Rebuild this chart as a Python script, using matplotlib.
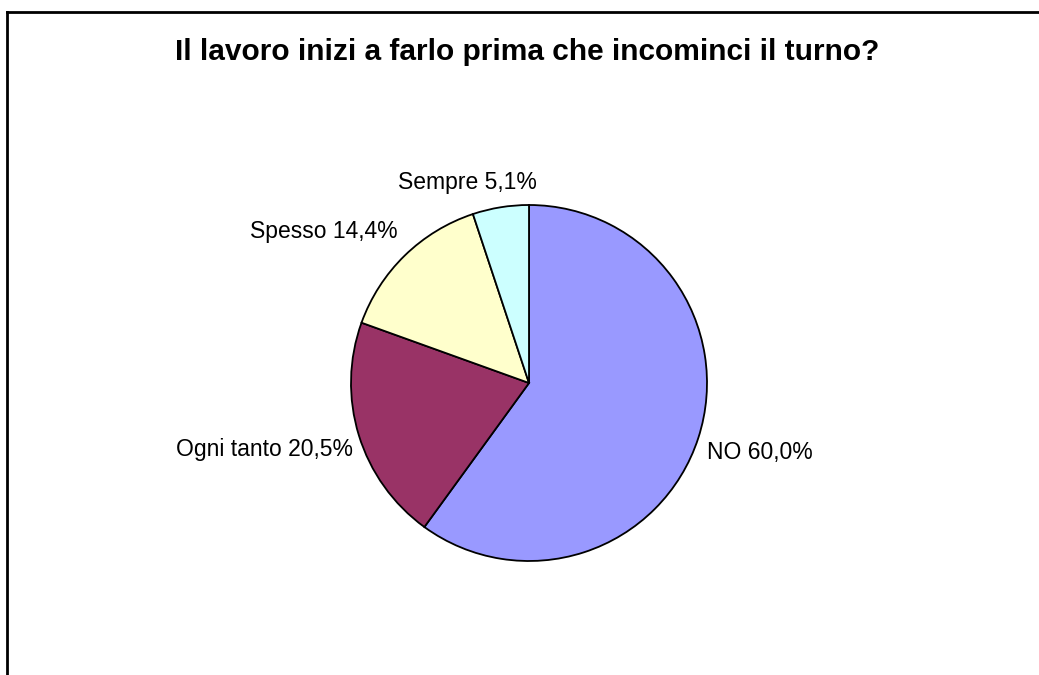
import numpy as np
import matplotlib
matplotlib.use("Agg")
import matplotlib.pyplot as plt

plt.rcParams['font.family'] = ['Liberation Sans', 'DejaVu Sans']

# Dati del grafico
categorie = ["NO", "Ogni tanto", "Spesso", "Sempre"]
percentuali = [60.0, 20.5, 14.4, 5.1]
colori = ["#9999FF", "#993366", "#FFFFCC", "#CCFFFF"]
titolo = "Il lavoro inizi a farlo prima che incominci il turno?"

# spostamento delle etichette rispetto al bordo della fetta (pixel)
offset_etichette = [(62, -14), (-94, -14), (-81, 24), (-33, 25)]

W, H = 1039, 675
fig = plt.figure(figsize=(W / 100, H / 100), dpi=100)
ax = fig.add_axes([0, 0, 1, 1])

centro = (529, H - 383)
raggio = 178
wedges, _ = ax.pie(percentuali, colors=colori, startangle=90, counterclock=False,
                   center=centro, radius=raggio, frame=True,
                   wedgeprops=dict(edgecolor='black', linewidth=1.3))
ax.set_xlim(0, W)
ax.set_ylim(0, H)
ax.set_aspect('equal')
ax.axis('off')

for w, cat, val, off in zip(wedges, categorie, percentuali, offset_etichette):
    ang = np.deg2rad((w.theta1 + w.theta2) / 2)
    punto = (centro[0] + raggio * np.cos(ang), centro[1] + raggio * np.sin(ang))
    testo = f"{cat} {val:.1f}%".replace('.', ',')
    ax.annotate(testo, xy=punto, xytext=off, textcoords='offset pixels',
                ha='center', va='center', fontsize=16.5)

# cornice del grafico (solo lati superiore e sinistro visibili)
ax.plot([7, W + 5], [H - 12, H - 12], color='black', lw=2, clip_on=False)
ax.plot([7, 7], [H - 12, -5], color='black', lw=2, clip_on=False)

fig.text(527 / W, 1 - 52 / H, titolo, ha='center', va='center',
         fontsize=21.5, fontweight='bold')

fig.savefig("out.png", dpi=100, facecolor='white')
